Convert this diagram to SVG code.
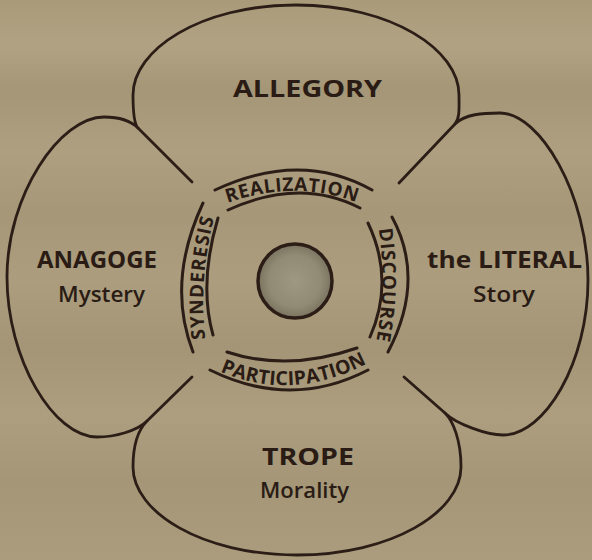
<svg xmlns="http://www.w3.org/2000/svg" width="592" height="560" viewBox="0 0 592 560">
<defs>
<linearGradient id="bg" x1="0" y1="0" x2="0" y2="1">
<stop offset="0" stop-color="#a99a7a"/>
<stop offset="0.08" stop-color="#b0a282"/>
<stop offset="0.16" stop-color="#a49676"/>
<stop offset="0.27" stop-color="#ad9f7f"/>
<stop offset="0.38" stop-color="#a59777"/>
<stop offset="0.5" stop-color="#ab9d7d"/>
<stop offset="0.62" stop-color="#a39575"/>
<stop offset="0.74" stop-color="#ac9e7e"/>
<stop offset="0.86" stop-color="#a49676"/>
<stop offset="1" stop-color="#aa9c7c"/>
</linearGradient>
<radialGradient id="disk" cx="0.5" cy="0.5" r="0.5">
<stop offset="0" stop-color="#9e9781"/>
<stop offset="0.7" stop-color="#918a74"/>
<stop offset="1" stop-color="#7a7360"/>
</radialGradient>
<path id="pReal" d="M216,207 Q297,175 368,207"/>
<path id="pPart" d="M213,368 Q290.5,406 374,360"/>
<path id="pSyn" d="M207,350 Q196,282 217,206"/>
<path id="pDis" d="M377,218 Q389,285 374,352"/>
</defs>
<style>
.ln{fill:none;stroke:#2c1e17;stroke-width:2.8;stroke-linecap:round;stroke-linejoin:round}
.arc{fill:none;stroke:#2c1e17;stroke-width:3;stroke-linecap:round}
.t{font-family:"Open Sans","Liberation Sans",sans-serif;fill:#2a1c15;font-weight:bold}
.s{font-family:"Open Sans","Liberation Sans",sans-serif;fill:#2a1c15;font-weight:600}
.ring{font-family:"Open Sans","Liberation Sans",sans-serif;fill:#2a1c15;font-weight:bold}
</style>
<rect width="592" height="560" fill="url(#bg)"/>
<g id="outline">
<path class="ln" d="M138,128 C134,124 133,110 133,95 C133,50 200,5 296,5 C392,5 459,50 459,95 C459,108 460,118 455,124 C465,114 483,113 500,113 C540,113 588,195 588,280 C588,362 545,435 503,435 C487,435 456,424 445,413 C453,421 461,440 461,467 C461,512 392,555 297,555 C202,555 133,512 133,467 C133,442 139,429 147,421 C137,431 115,437 97,437 C54,437 7,360 7,277 C7,195 60,117 104,117 C120,117 130,120 138,128 Z"/>
</g>
<g id="connectors">
<line class="ln" x1="138" y1="128" x2="192" y2="182"/>
<line class="ln" x1="455" y1="124" x2="399" y2="183"/>
<line class="ln" x1="445" y1="413" x2="404" y2="377"/>
<line class="ln" x1="147" y1="421" x2="192" y2="377"/>
</g>
<g id="allegory">
<text class="t" x="233" y="97" font-size="23" textLength="149" lengthAdjust="spacingAndGlyphs">ALLEGORY</text>
</g>
<g id="anagoge">
<text class="t" x="37" y="268" font-size="24" textLength="120" lengthAdjust="spacingAndGlyphs">ANAGOGE</text>
<text class="s" x="58" y="302" font-size="21" textLength="87" lengthAdjust="spacingAndGlyphs">Mystery</text>
</g>
<g id="literal">
<text class="t" x="427" y="268" font-size="24" textLength="155" lengthAdjust="spacingAndGlyphs">the LITERAL</text>
<text class="s" x="473" y="302" font-size="21" textLength="62" lengthAdjust="spacingAndGlyphs">Story</text>
</g>
<g id="trope">
<text class="t" x="262" y="465" font-size="24" textLength="92" lengthAdjust="spacingAndGlyphs">TROPE</text>
<text class="s" x="260" y="498" font-size="21" textLength="89" lengthAdjust="spacingAndGlyphs">Morality</text>
</g>
<g id="center">
<circle cx="295" cy="281" r="37" fill="url(#disk)" stroke="#2c1e17" stroke-width="3.5"/>
</g>
<g id="realization">
<path class="arc" d="M215,190 Q300.5,150 372,190"/>
<path class="arc" d="M228,210 Q300,177 360,208"/>
<text class="ring" font-size="19" letter-spacing="0.6"><textPath href="#pReal" startOffset="50%" text-anchor="middle">REALIZATION</textPath></text>
</g>
<g id="participation">
<path class="arc" d="M227,352 Q288,372 357,348"/>
<path class="arc" d="M210,370 Q291,410 368,370"/>
<text class="ring" font-size="19.5" letter-spacing="0.2"><textPath href="#pPart" startOffset="50%" text-anchor="middle">PARTICIPATION</textPath></text>
</g>
<g id="synderesis">
<path class="arc" d="M203,203 Q166,282.5 193,352"/>
<path class="arc" d="M218,218 Q198.5,283.5 213,335"/>
<text class="ring" font-size="19" letter-spacing="1"><textPath href="#pSyn" startOffset="50%" text-anchor="middle">SYNDERESIS</textPath></text>
</g>
<g id="discourse">
<path class="arc" d="M392,217 Q426,279.5 388,352"/>
<path class="arc" d="M368,223 Q395,280 370,337"/>
<text class="ring" font-size="19" letter-spacing="0.8"><textPath href="#pDis" startOffset="50%" text-anchor="middle">DISCOURSE</textPath></text>
</g>
</svg>
